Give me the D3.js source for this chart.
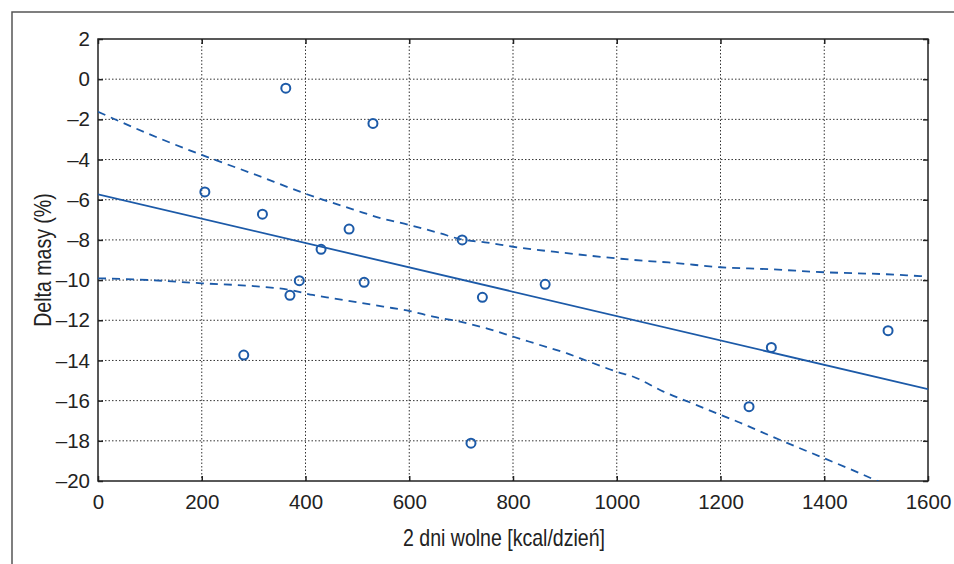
<!DOCTYPE html>
<html>
<head>
<meta charset="utf-8">
<script src="https://cdn.jsdelivr.net/npm/d3@7.9.0/dist/d3.min.js"></script>
<style>
  body { margin: 0; background: #fff; }
  svg { display: block; }
  text { font-family: "Liberation Sans", Arial, sans-serif; fill: #222; }
</style>
</head>
<body>
<div id="chart"></div>
<script>
// tick values
const xTicks = [0, 200, 400, 600, 800, 1000, 1200, 1400, 1600];
const yTicks = [2, 0, -2, -4, -6, -8, -10, -12, -14, -16, -18, -20];

// measured points: kcal/day vs mass change (%)
const kcal = [206, 362, 530, 317, 430, 484, 388, 370, 513, 702, 741, 862, 281, 719, 1255, 1298, 1523];
const deltaMass = [-5.61, -0.45, -2.2, -6.72, -8.47, -7.46, -10.03, -10.76, -10.11, -8.0, -10.86, -10.21, -13.73, -18.12, -16.3, -13.35, -12.52];

// regression line
const fitX = [0, 1600];
const fitY = [-5.73, -15.43];

// upper confidence band
const upperX = [0, 100, 200, 300, 400, 495, 547, 601, 659, 700, 746, 800, 900, 1000, 1058, 1100, 1200, 1295, 1400, 1520, 1585, 1600];
const upperY = [-1.62, -2.75, -3.77, -4.72, -5.7, -6.51, -6.93, -7.26, -7.67, -7.97, -8.12, -8.34, -8.65, -8.92, -9.05, -9.12, -9.36, -9.46, -9.61, -9.71, -9.8, -9.82];

// lower confidence band
const lowerX = [0, 100, 200, 300, 370, 414, 454, 499, 550, 601, 646, 698, 749, 801, 852, 903, 955, 1000, 1032, 1090, 1154, 1200, 1238, 1263, 1315, 1400, 1469, 1499, 1520];
const lowerY = [-9.91, -10.0, -10.16, -10.3, -10.49, -10.74, -10.91, -11.1, -11.32, -11.54, -11.82, -12.07, -12.4, -12.82, -13.23, -13.64, -14.14, -14.56, -14.81, -15.55, -16.22, -16.71, -17.1, -17.38, -17.96, -18.87, -19.62, -19.96, -20.2];

const width = 954;
const height = 564;
const margin = { top: 39, right: 26, bottom: 83, left: 98 };
const blue = "#1c5aa8";

const svg = d3.select("#chart")
  .append("svg")
  .attr("width", width)
  .attr("height", height);

// outer frame (only top and left visible)
svg.append("path")
  .attr("d", `M12,${height} L12,12 L${width},12`)
  .attr("fill", "none")
  .attr("stroke", "#555")
  .attr("stroke-width", 1.5);

const xScale = d3.scaleLinear()
  .domain([0, 1600])
  .range([margin.left, width - margin.right]);

const yScale = d3.scaleLinear()
  .domain([-20, 2])
  .range([height - margin.bottom, margin.top]);

const plotW = width - margin.left - margin.right;
const plotH = height - margin.top - margin.bottom;

svg.append("defs").append("clipPath")
  .attr("id", "plot-clip")
  .append("rect")
  .attr("x", margin.left)
  .attr("y", margin.top)
  .attr("width", plotW)
  .attr("height", plotH);

// dotted grid
const grid = svg.append("g").attr("class", "grid");
grid.selectAll("line.v")
  .data(xTicks.slice(1, -1))
  .join("line")
  .attr("class", "v")
  .attr("x1", d => xScale(d)).attr("x2", d => xScale(d))
  .attr("y1", margin.top).attr("y2", height - margin.bottom);
grid.selectAll("line.h")
  .data(yTicks.slice(1, -1))
  .join("line")
  .attr("class", "h")
  .attr("x1", margin.left).attr("x2", width - margin.right)
  .attr("y1", d => yScale(d)).attr("y2", d => yScale(d));
grid.selectAll("line")
  .attr("stroke", "#333")
  .attr("stroke-width", 1)
  .attr("stroke-dasharray", "1.5,2");

// axes with inward ticks, MATLAB style
const fmt = d => (d < 0 ? "\u2013" + Math.abs(d) : String(d));

svg.append("g")
  .attr("transform", `translate(0, ${height - margin.bottom})`)
  .call(d3.axisBottom(xScale).tickValues(xTicks).tickSizeInner(-5).tickSizeOuter(0).tickPadding(13).tickFormat(fmt));

svg.append("g")
  .attr("transform", `translate(${margin.left}, 0)`)
  .call(d3.axisLeft(yScale).tickValues(yTicks).tickSizeInner(-5).tickSizeOuter(0).tickPadding(8).tickFormat(fmt));

svg.append("g")
  .attr("transform", `translate(0, ${margin.top})`)
  .call(d3.axisTop(xScale).tickValues(xTicks).tickSizeInner(-5).tickSizeOuter(0).tickFormat(""));

svg.append("g")
  .attr("transform", `translate(${width - margin.right}, 0)`)
  .call(d3.axisRight(yScale).tickValues(yTicks).tickSizeInner(-5).tickSizeOuter(0).tickFormat(""));

svg.selectAll(".domain").remove();
svg.selectAll(".tick line").attr("stroke", "#222").attr("stroke-width", 1.5);
svg.selectAll(".tick text")
  .style("font-size", "20.5px")
  .attr("fill", "#222");

// plot box
svg.append("rect")
  .attr("x", margin.left)
  .attr("y", margin.top)
  .attr("width", plotW)
  .attr("height", plotH)
  .attr("fill", "none")
  .attr("stroke", "#222")
  .attr("stroke-width", 1.5);

const line = d3.line()
  .x(d => xScale(d[0]))
  .y(d => yScale(d[1]));

const curves = svg.append("g").attr("clip-path", "url(#plot-clip)");

curves.append("path")
  .datum(d3.zip(fitX, fitY))
  .attr("d", line)
  .attr("fill", "none")
  .attr("stroke", blue)
  .attr("stroke-width", 1.8);

[[upperX, upperY], [lowerX, lowerY]].forEach(([xs, ys]) => {
  curves.append("path")
    .datum(d3.zip(xs, ys))
    .attr("d", line.curve(d3.curveMonotoneX))
    .attr("fill", "none")
    .attr("stroke", blue)
    .attr("stroke-width", 1.8)
    .attr("stroke-dasharray", "8,6");
});

svg.append("g")
  .selectAll("circle")
  .data(d3.zip(kcal, deltaMass))
  .join("circle")
  .attr("cx", d => xScale(d[0]))
  .attr("cy", d => yScale(d[1]))
  .attr("r", 4.5)
  .attr("fill", "none")
  .attr("stroke", blue)
  .attr("stroke-width", 2);

// axis titles, squeezed horizontally to look like a condensed face
svg.append("text")
  .attr("transform", "translate(504, 546) scale(0.85, 1)")
  .attr("text-anchor", "middle")
  .style("font-size", "23px")
  .text("2 dni wolne [kcal/dzie\u0144]");

svg.append("text")
  .attr("transform", `translate(51, ${(margin.top + height - margin.bottom) / 2}) rotate(-90) scale(0.85, 1)`)
  .attr("text-anchor", "middle")
  .style("font-size", "23px")
  .text("Delta masy (%)");
</script>
</body>
</html>
